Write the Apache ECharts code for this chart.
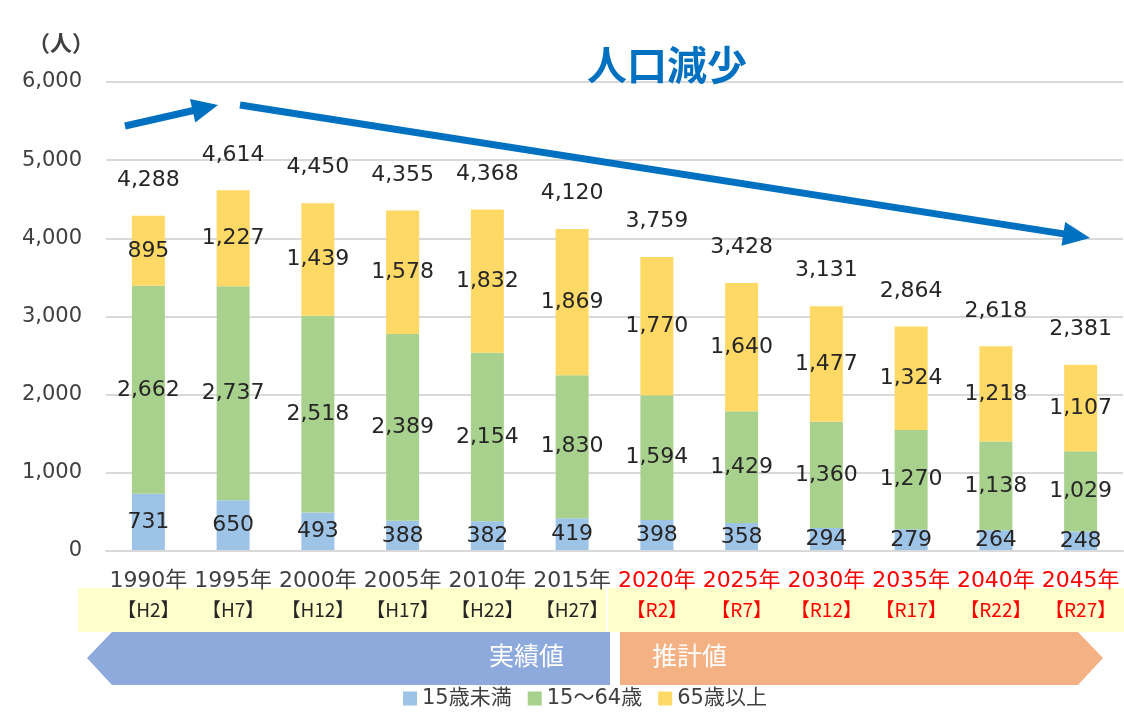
<!DOCTYPE html>
<html>
<head>
<meta charset="utf-8">
<script src="https://cdn.jsdelivr.net/npm/echarts@6/dist/echarts.min.js"></script>
<style>
html, body { margin: 0; padding: 0; background: #fff; }
#main { width: 1124px; height: 714px; }
</style>
</head>
<body>
<div id="main"></div>
<script>
var years = ['1990年', '1995年', '2000年', '2005年', '2010年', '2015年', '2020年', '2025年', '2030年', '2035年', '2040年', '2045年'];
var eras = ['【H2】', '【H7】', '【H12】', '【H17】', '【H22】', '【H27】', '【R2】', '【R7】', '【R12】', '【R17】', '【R22】', '【R27】'];
var under15 = [731, 650, 493, 388, 382, 419, 398, 358, 294, 279, 264, 248];
var age15to64 = [2662, 2737, 2518, 2389, 2154, 1830, 1594, 1429, 1360, 1270, 1138, 1029];
var over65 = [895, 1227, 1439, 1578, 1832, 1869, 1770, 1640, 1477, 1324, 1218, 1107];
var totals = [4288, 4614, 4450, 4355, 4368, 4120, 3759, 3428, 3131, 2864, 2618, 2381];
var yTicks = [0, 1000, 2000, 3000, 4000, 5000, 6000];

var numFont = 'DejaVu Sans, Noto Sans CJK JP, sans-serif';
var jpFont = 'Noto Sans CJK JP, sans-serif';

function fmt(v) {
    return String(v).replace(/\B(?=(\d{3})+(?!\d))/g, ',');
}

// arrow = shaft line + triangle head
function arrow(x1, y1, x2, y2, headLen, headW) {
    var dx = x2 - x1, dy = y2 - y1;
    var len = Math.sqrt(dx * dx + dy * dy);
    var ux = dx / len, uy = dy / len;
    var bx = x2 - ux * headLen, by = y2 - uy * headLen;
    return [
        {
            type: 'line', z: 10,
            shape: {x1: x1, y1: y1, x2: bx + ux * 2, y2: by + uy * 2},
            style: {stroke: '#0070C0', lineWidth: 7}
        },
        {
            type: 'polygon', z: 10,
            shape: {points: [[x2, y2], [bx - uy * headW / 2, by + ux * headW / 2], [bx + uy * headW / 2, by - ux * headW / 2]]},
            style: {fill: '#0070C0'}
        }
    ];
}

var myChart = echarts.init(document.getElementById('main'));

var labelStyle = {
    show: true,
    position: 'inside',
    fontFamily: numFont,
    fontSize: 22,
    color: '#262626',
    formatter: function (p) { return fmt(p.value); }
};

var graphics = [
    // yellow band behind category labels
    {type: 'rect', z: -5, shape: {x: 78, y: 588, width: 528, height: 44}, style: {fill: '#FFFFCC'}},
    {type: 'rect', z: -5, shape: {x: 608, y: 588, width: 516, height: 44}, style: {fill: '#FFFFCC'}},
    // result / estimate banners
    {type: 'polygon', shape: {points: [[87, 658], [112, 632], [610, 632], [610, 685], [112, 685]]}, style: {fill: '#8EA9DB'}},
    {type: 'text', left: 489, top: 643, style: {text: '実績値', fill: '#fff', font: '25px ' + jpFont}},
    {type: 'polygon', shape: {points: [[620, 632], [1078, 632], [1103, 658], [1078, 685], [620, 685]]}, style: {fill: '#F4B183'}},
    {type: 'text', left: 652, top: 643, style: {text: '推計値', fill: '#fff', font: '25px ' + jpFont}},
    // unit
    {type: 'text', left: 28, top: 32, style: {text: '（人）', fill: '#404040', font: 'bold 22px ' + jpFont}}
];
graphics = graphics.concat(arrow(125, 126, 218, 105, 26, 24));
graphics = graphics.concat(arrow(240, 105, 1090, 238, 27, 24));

var option = {
    animation: false,
    title: {
        text: '人口減少',
        left: 582,
        top: 40,
        textStyle: {color: '#0070C0', fontSize: 40, fontWeight: 'bold', fontFamily: jpFont}
    },
    legend: {
        bottom: 0,
        left: 398,
        icon: 'rect',
        itemWidth: 14,
        itemHeight: 14,
        itemGap: 16,
        textStyle: {fontSize: 21, color: '#404040', fontFamily: numFont},
        data: ['15歳未満', '15～64歳', '65歳以上']
    },
    grid: {left: 106, right: 1, top: 82, bottom: 163},
    graphic: graphics,
    xAxis: {
        type: 'category',
        z: 5,
        data: years,
        axisLine: {lineStyle: {color: '#D9D9D9', width: 2}},
        axisTick: {show: false},
        axisLabel: {
            interval: 0,
            margin: 16,
            formatter: function (v, i) {
                return i < 6 ? '{ya|' + years[i] + '}\n{ga|' + eras[i] + '}'
                             : '{yr|' + years[i] + '}\n{gr|' + eras[i] + '}';
            },
            rich: {
                ya: {color: '#404040', fontSize: 22, lineHeight: 28, fontFamily: numFont},
                yr: {color: '#FF0000', fontSize: 22, lineHeight: 28, fontFamily: numFont},
                ga: {color: '#262626', fontSize: 19, lineHeight: 30, fontFamily: jpFont},
                gr: {color: '#FF0000', fontSize: 19, lineHeight: 30, fontFamily: jpFont}
            }
        }
    },
    yAxis: {
        type: 'value',
        min: yTicks[0],
        max: yTicks[yTicks.length - 1],
        interval: 1000,
        axisLine: {show: false},
        axisTick: {show: false},
        splitLine: {lineStyle: {color: '#D9D9D9', width: 2}},
        axisLabel: {
            margin: 24,
            fontSize: 21,
            fontFamily: numFont,
            color: '#404040',
            formatter: function (v) { return fmt(v); }
        }
    },
    series: [
        {name: '15歳未満', type: 'bar', stack: 'pop', barWidth: 33, data: under15,
            itemStyle: {color: '#9DC3E6'}, label: labelStyle},
        {name: '15～64歳', type: 'bar', stack: 'pop', barWidth: 33, data: age15to64,
            itemStyle: {color: '#A9D18E'}, label: labelStyle},
        {name: '65歳以上', type: 'bar', stack: 'pop', barWidth: 33, data: over65,
            itemStyle: {color: '#FFD966'}, label: labelStyle},
        {name: '合計', type: 'scatter', data: totals, symbol: 'circle', symbolSize: 1, silent: true,
            itemStyle: {color: 'rgba(0,0,0,0)', opacity: 1},
            label: {show: true, position: 'top', distance: 24, fontFamily: numFont, fontSize: 22, color: '#262626',
                formatter: function (p) { return fmt(p.value); }}}
    ]
};
myChart.setOption(option);
</script>
</body>
</html>
